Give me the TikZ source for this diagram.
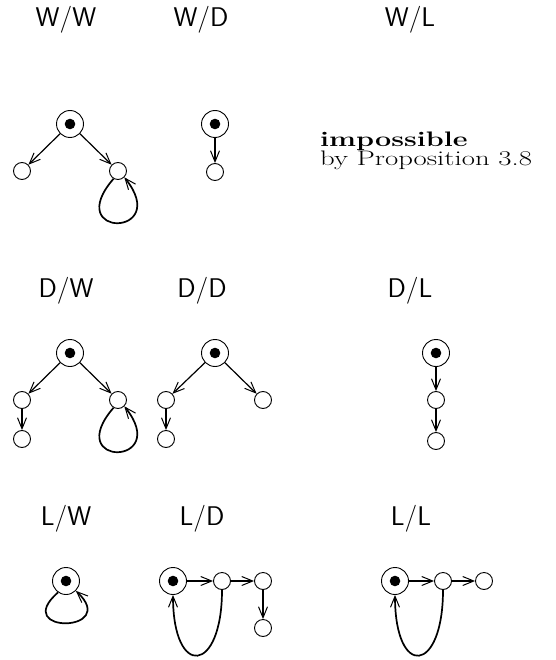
\documentclass[tikz,border=0pt]{standalone}
\usetikzlibrary{arrows.meta}
\begin{document}
\begin{tikzpicture}[x=1pt,y=-1pt,
  root/.style={circle,draw,line width=0.9pt,minimum size=27pt,inner sep=0pt,
    path picture={\fill (path picture bounding box.center) circle (5.3pt);}},
  leaf/.style={circle,draw,line width=0.9pt,minimum size=17pt,inner sep=0pt},
  edge/.style={line width=1.7pt,-{Straight Barb[length=11pt,width=9pt,line width=1pt]}},
  diag/.style={edge,line width=1.2pt},
  lab/.style={font=\sffamily\fontsize{27}{32}\selectfont,anchor=base,inner sep=0pt},
  txt/.style={anchor=north west,inner sep=0pt,align=left,font=\fontsize{21}{18}\selectfont},
]
\useasboundingbox (0,0) rectangle (555,660);

% W/W
\node[lab] (lww) at (66,27) {W/W};
\node[root] (a0) at (70,124) {};
\node[leaf] (a1) at (22,171) {};
\node[leaf] (a2) at (118,171) {};
\draw[diag] (a0) -- (a1);
\draw[diag] (a0) -- (a2);
\draw[edge] (a2.240) .. controls +(-52,60) and +(48,60) .. (a2.315);

% W/D
\node[lab] (lwd) at (201,27) {W/D};
\node[root] (b0) at (215,124) {};
\node[leaf] (b1) at (215,172) {};
\draw[edge] (b0) -- (b1);

% W/L
\node[lab] (lwl) at (410,27) {W/L};
\node[txt] (imp) at (320,131.5) {\scalebox{1.37}[1]{\bfseries impossible}\\\scalebox{1.37}[1]{by Proposition 3.8}};

% D/W
\node[lab] (ldw) at (66,297) {D/W};
\node[root] (c0) at (70,353) {};
\node[leaf] (c1) at (22,400) {};
\node[leaf] (c2) at (118,400) {};
\node[leaf] (c3) at (22,439) {};
\draw[diag] (c0) -- (c1);
\draw[diag] (c0) -- (c2);
\draw[edge] (c1) -- (c3);
\draw[edge] (c2.240) .. controls +(-52,60) and +(48,60) .. (c2.315);

% D/D
\node[lab] (ldd) at (202,297) {D/D};
\node[root] (d0) at (215,353) {};
\node[leaf] (d1) at (166,400) {};
\node[leaf] (d2) at (263,400) {};
\node[leaf] (d3) at (166,439) {};
\draw[diag] (d0) -- (d1);
\draw[diag] (d0) -- (d2);
\draw[edge] (d1) -- (d3);

% D/L
\node[lab] (ldl) at (410,297) {D/L};
\node[root] (g0) at (436,353) {};
\node[leaf] (g1) at (436,400) {};
\node[leaf] (g2) at (436,441) {};
\draw[edge] (g0) -- (g1);
\draw[edge] (g1) -- (g2);

% L/W
\node[lab] (llw) at (66,525) {L/W};
\node[root] (e0) at (66,581) {};
\draw[edge] (e0.235) .. controls +(-48,42) and +(45,42) .. (e0.315);

% L/D
\node[lab] (lld) at (202,525) {L/D};
\node[root] (f0) at (173,581) {};
\node[leaf] (f1) at (222,581) {};
\node[leaf] (f2) at (263,581) {};
\node[leaf] (f3) at (263,628) {};
\draw[edge] (f0) -- (f1);
\draw[edge] (f1) -- (f2);
\draw[edge] (f2) -- (f3);
\draw[edge] (f1.south) .. controls +(0,84) and +(0,84) .. (f0.south);

% L/L
\node[lab] (lll) at (411,525) {L/L};
\node[root] (h0) at (395,581) {};
\node[leaf] (h1) at (443,581) {};
\node[leaf] (h2) at (484,581) {};
\draw[edge] (h0) -- (h1);
\draw[edge] (h1) -- (h2);
\draw[edge] (h1.south) .. controls +(0,84) and +(0,84) .. (h0.south);
\end{tikzpicture}
\end{document}
